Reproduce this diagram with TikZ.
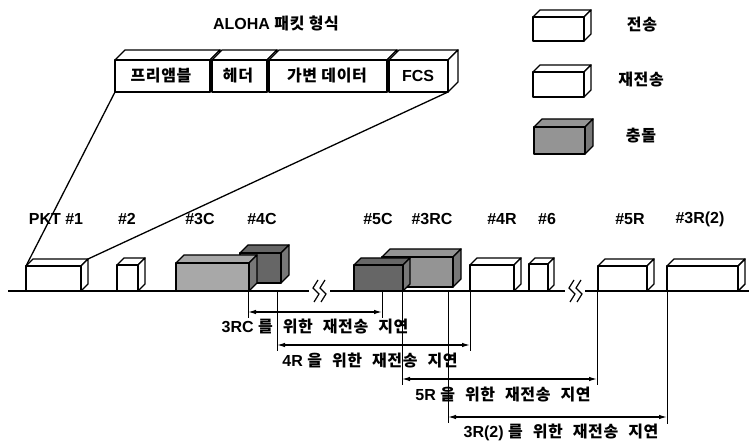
\documentclass[tikz,border=0pt]{standalone}
\usepackage{fontspec}
\setmainfont{Liberation Sans}
\newfontfamily\kr{Noto Sans CJK KR}[LetterSpace=4]
\usetikzlibrary{arrows.meta}
\newcommand\K[1]{{\kr\bfseries\fontsize{16}{19}\selectfont #1}}
\newcommand\ws{\hspace{10pt}}
% name, x1, ytop, x2, ybottom, depth, front fill, side fill
\newcommand\cuboid[8]{%
  \filldraw[boxline,fill=#7] (#2,#3) -- (#2+#6,#3-#6) -- (#4+#6,#3-#6) -- (#4,#3) -- cycle;
  \filldraw[boxline,fill=#8] (#4,#3) -- (#4+#6,#3-#6) -- (#4+#6,#5-#6) -- (#4,#5) -- cycle;
  \filldraw[boxline,fill=#7] (#2,#3) rectangle (#4,#5);
  \coordinate (#1-ftl) at (#2,#3);
  \coordinate (#1-fbl) at (#2,#5);
  \coordinate (#1-fbr) at (#4,#5);
  \coordinate (#1-btr) at (#4+#6,#3-#6);
}
\definecolor{collA}{gray}{0.66}
\definecolor{collB}{gray}{0.47}
\definecolor{collC}{gray}{0.40}
\definecolor{collD}{gray}{0.58}
\begin{document}
\begin{tikzpicture}[x=1pt,y=-1pt,
  font=\bfseries\fontsize{16}{19}\selectfont,
  boxline/.style={draw=black,line width=1.4pt,line join=round},
  lbl/.style={inner sep=0pt,anchor=center},
  baseln/.style={line width=1.2pt},
  extline/.style={line width=0.9pt},
  dimarrow/.style={line width=1.2pt,{Latex[length=8pt,width=4.5pt]}-{Latex[length=8pt,width=4.5pt]}},
  zig/.style={line width=1.2pt,line join=miter},
  feed/.style={line width=1.3pt}]
\useasboundingbox (0,0) rectangle (749,443);

% ---------- title and packet format ----------
\node[lbl] (title) at (276,23) {ALOHA \K{패킷 형식}};
\cuboid{pre}{115}{60}{210}{92}{10}{white}{white}
\cuboid{hdr}{212}{60}{267}{92}{10}{white}{white}
\cuboid{dat}{269}{60}{387}{92}{10}{white}{white}
\cuboid{fcs}{389}{60}{448}{92}{10}{white}{white}
\node[lbl] (tpre) at (161,76) {\K{프리앰블}};
\node[lbl] (thdr) at (238,76) {\K{헤더}};
\node[lbl] (tdat) at (327,76) {\K{가변 데이터}};
\node[lbl] (tfcs) at (418,76) {FCS};

% ---------- legend ----------
\cuboid{lg1}{533}{17}{584}{41}{7}{white}{white}
\cuboid{lg2}{533}{72}{584}{97}{7}{white}{white}
\cuboid{lg3}{534}{127}{585}{154}{8}{collD}{collB}
\node[lbl] (lt1) at (642,25) {\K{전송}};
\node[lbl] (lt2) at (641,80) {\K{재전송}};
\node[lbl] (lt3) at (641,136) {\K{충돌}};

% ---------- time line ----------
\coordinate (b0) at (8,291);
\coordinate (b1) at (309,291);
\coordinate (b2) at (330,291);
\coordinate (b3) at (565,291);
\coordinate (b4) at (585,291);
\coordinate (b5) at (749,291);
\draw[baseln] (b0) -- (b1);
\draw[baseln] (b2) -- (b3);
\draw[baseln] (b4) -- (b5);
\draw[zig] (318,280) -- (313,288) -- (319,294) -- (314,302);
\draw[zig] (325,280) -- (320,288) -- (326,294) -- (321,302);
\draw[zig] (574,280) -- (569,288) -- (575,294) -- (570,302);
\draw[zig] (581,280) -- (576,288) -- (582,294) -- (577,302);

% ---------- packets ----------
\cuboid{p1}{26}{266}{81}{291}{7}{white}{white}
\cuboid{p2}{117}{265}{138}{291}{7}{white}{white}
\cuboid{c4}{240}{253}{281}{283}{8}{collC}{collB}
\cuboid{c3}{176}{263}{249}{291}{8}{collA}{collB}
\cuboid{rc3}{382}{257}{453}{287}{8}{collD}{collB}
\cuboid{c5}{354}{265}{403}{291}{7}{collC}{collB}
\cuboid{r4}{470}{265}{514}{291}{7}{white}{white}
\cuboid{p6}{529}{264}{548}{291}{6}{white}{white}
\cuboid{r5}{598}{266}{647}{291}{7}{white}{white}
\cuboid{r32}{667}{266}{738}{291}{7}{white}{white}

% feed lines from the packet format to PKT #1
\draw[feed] (pre-fbl) -- (p1-ftl);
\draw[feed] (fcs-fbr) -- (p1-btr);

% ---------- packet labels ----------
\node[lbl] (tp1) at (56,219) {PKT \#1};
\node[lbl] (tp2) at (127,219) {\#2};
\node[lbl] (tc3) at (200,219) {\#3C};
\node[lbl] (tc4) at (262,219) {\#4C};
\node[lbl] (tc5) at (378,219) {\#5C};
\node[lbl] (trc3) at (432,219) {\#3RC};
\node[lbl] (tr4) at (502,219) {\#4R};
\node[lbl] (tp6) at (547,219) {\#6};
\node[lbl] (tr5) at (630,219) {\#5R};
\node[lbl] (tr32) at (700,219) {\#3R(2)};

% ---------- delay extension lines ----------
\coordinate (v1t) at (248,291);  \coordinate (v1b) at (248,318);
\coordinate (v2t) at (382,291);  \coordinate (v2b) at (382,318);
\coordinate (v3t) at (277,291);  \coordinate (v3b) at (277,351);
\coordinate (v4t) at (470,291);  \coordinate (v4b) at (470,351);
\coordinate (v5t) at (402,291);  \coordinate (v5b) at (402,385);
\coordinate (v6t) at (597,291);  \coordinate (v6b) at (597,385);
\coordinate (v7t) at (448,291);  \coordinate (v7b) at (448,423);
\coordinate (v8t) at (667,291);  \coordinate (v8b) at (667,424);
\foreach \i in {1,...,8} {\draw[extline] (v\i t) -- (v\i b);}

% ---------- delay arrows ----------
\coordinate (a1l) at (248,312); \coordinate (a1r) at (382,312);
\coordinate (a2l) at (277,345); \coordinate (a2r) at (470,345);
\coordinate (a3l) at (402,379); \coordinate (a3r) at (597,379);
\coordinate (a4l) at (448,417); \coordinate (a4r) at (667,417);
\draw[dimarrow] (a1l) -- (a1r);
\draw[dimarrow] (a2l) -- (a2r);
\draw[dimarrow] (a3l) -- (a3r);
\draw[dimarrow] (a4l) -- (a4r);

\node[lbl] (d1) at (315,327) {3RC \K{를}\ws\K{위한}\ws\K{재전송}\ws\K{지연}};
\node[lbl] (d2) at (370,361) {4R \K{을}\ws\K{위한}\ws\K{재전송}\ws\K{지연}};
\node[lbl] (d3) at (503,395) {5R \K{을}\ws\K{위한}\ws\K{재전송}\ws\K{지연}};
\node[lbl] (d4) at (561,432) {3R(2) \K{를}\ws\K{위한}\ws\K{재전송}\ws\K{지연}};
\end{tikzpicture}
\end{document}
